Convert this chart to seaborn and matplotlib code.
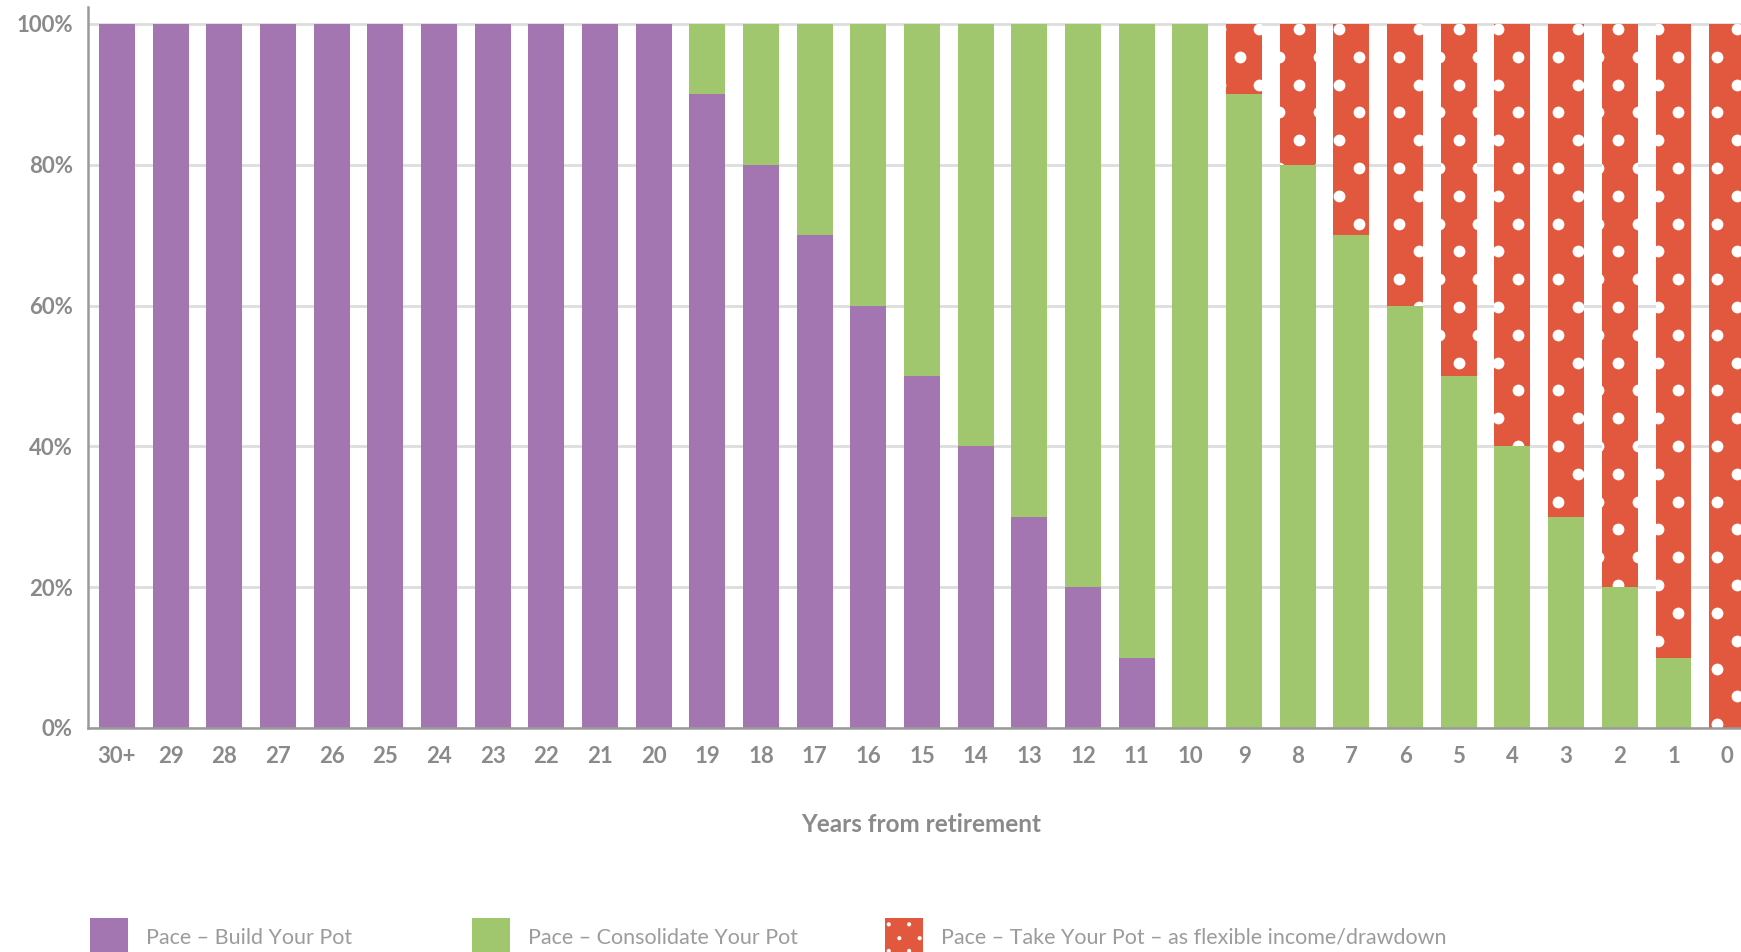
import numpy as np
import pandas as pd
import matplotlib
matplotlib.use("Agg")
import matplotlib.pyplot as plt
from matplotlib.path import Path
from matplotlib.patches import Rectangle, Circle, Patch
from matplotlib.legend_handler import HandlerPatch
import seaborn as sns

# ---- data -----------------------------------------------------------------
years = ["30+", "29", "28", "27", "26", "25", "24", "23", "22", "21", "20",
         "19", "18", "17", "16", "15", "14", "13", "12", "11", "10",
         "9", "8", "7", "6", "5", "4", "3", "2", "1", "0"]
build = [100, 100, 100, 100, 100, 100, 100, 100, 100, 100, 100,
         90, 80, 70, 60, 50, 40, 30, 20, 10, 0,
         0, 0, 0, 0, 0, 0, 0, 0, 0, 0]
consolidate = [0, 0, 0, 0, 0, 0, 0, 0, 0, 0, 0,
               10, 20, 30, 40, 50, 60, 70, 80, 90, 100,
               90, 80, 70, 60, 50, 40, 30, 20, 10, 0]
take = [0, 0, 0, 0, 0, 0, 0, 0, 0, 0, 0,
        0, 0, 0, 0, 0, 0, 0, 0, 0, 0,
        10, 20, 30, 40, 50, 60, 70, 80, 90, 100]
y_ticks = [0, 20, 40, 60, 80, 100]
series_names = ["Pace \u2013 Build Your Pot",
                "Pace \u2013 Consolidate Your Pot",
                "Pace \u2013 Take Your Pot \u2013 as flexible income/drawdown"]

PURPLE = "#A376B2"
GREEN = "#A0C76E"
RED = "#E2583E"
TEXT = "#8A8A8A"
LEGEND_TEXT = "#9C9C9C"
GRID = "#DDDDDD"
SPINE = "#9A9A9A"

df = pd.DataFrame({"years": years, "build": build,
                   "consolidate": consolidate, "take": take})

sns.set_style("white")
plt.rcParams["font.family"] = ["Lato", "DejaVu Sans"]

W, H = 1741, 952
fig = plt.figure(figsize=(W / 100, H / 100), dpi=100)
# axes runs slightly past the right edge so the last bar is cropped
x_lo, x_hi = -0.54, 30.5
ax = fig.add_axes([88 / W, (H - 728) / H, 1666 / W, 721 / H])

bar_kw = dict(order=years, width=0.67, saturation=1, errorbar=None,
              linewidth=0, zorder=2, ax=ax)
sns.barplot(data=df, x="years", y="build", color=PURPLE, **bar_kw)
sns.barplot(data=df, x="years", y="consolidate", color=GREEN,
            bottom=np.asarray(build), **bar_kw)
sns.barplot(data=df, x="years", y="take", color=RED,
            bottom=np.asarray(build) + np.asarray(consolidate), **bar_kw)

# white polka-dot texture on the drawdown bars
red_bars = [p for p in ax.containers[-1].patches if p.get_height() > 0]
clip = Path.make_compound_path(
    *[p.get_path().transformed(p.get_patch_transform()) for p in red_bars])
dx, dy = 0.742, 3.95
dot_x, dot_y = [], []
for r in range(27):
    yy = 99.3 - r * dy
    x0 = 0.51 + (dx / 2 if r % 2 else 0.0) - 2 * dx
    xs = np.arange(x0, 31.5, dx)
    dot_x.extend(xs)
    dot_y.extend([yy] * len(xs))
dots = ax.scatter(dot_x, dot_y, s=72, c="white", linewidths=0, zorder=3)
dots.set_clip_path(clip, ax.transData)

ax.set_xlim(x_lo, x_hi)
ax.set_ylim(0, 102.41)

# axes styling
ax.set_yticks(y_ticks)
ax.set_yticklabels([f"{v}%" for v in y_ticks])
ax.yaxis.grid(True, color=GRID, linewidth=2, zorder=0)
ax.xaxis.grid(False)
ax.set_axisbelow(True)
for side in ("top", "right"):
    ax.spines[side].set_visible(False)
for side in ("left", "bottom"):
    ax.spines[side].set_color(SPINE)
    ax.spines[side].set_linewidth(1.8)
    ax.spines[side].set_zorder(4)
ax.tick_params(axis="both", length=0, labelcolor=TEXT, labelsize=16)
ax.tick_params(axis="y", pad=11)
ax.tick_params(axis="x", pad=13)
for lab in ax.get_xticklabels() + ax.get_yticklabels():
    lab.set_fontweight("bold")

ax.set_ylabel("")
ax.set_xlabel("Years from retirement", fontsize=17.5, color=TEXT,
              fontweight="bold", va="center")
ax.xaxis.set_label_coords((921 - 88) / 1666, (728 - 824) / 721)


class DottedSquare(HandlerPatch):
    """Legend key: red square with a small staggered dot grid."""

    def create_artists(self, legend, orig_handle, xdescent, ydescent,
                       width, height, fontsize, trans):
        x0, y0 = -xdescent, -ydescent
        arts = [Rectangle((x0, y0), width, height, facecolor=RED,
                          linewidth=0, transform=trans)]
        rows = [(0.84, (0.10, 0.64)), (0.47, (0.38, 0.92)),
                (0.13, (0.10, 0.64))]
        for fy, fxs in rows:
            for fx in fxs:
                arts.append(Circle((x0 + fx * width, y0 + fy * height),
                                   0.055 * width, facecolor="white",
                                   linewidth=0, transform=trans))
        return arts


handles = [Patch(facecolor=PURPLE, linewidth=0),
           Patch(facecolor=GREEN, linewidth=0),
           Patch(facecolor=RED, linewidth=0)]
legend_x = [90, 472, 885]
for i, (h, name, lx) in enumerate(zip(handles, series_names, legend_x)):
    hmap = {h: DottedSquare()} if i == 2 else None
    leg = fig.legend(handles=[h], labels=[name], loc="lower left",
                     bbox_to_anchor=(lx / W, -0.004), frameon=False,
                     borderpad=0, borderaxespad=0, handlelength=1.75,
                     handleheight=2.3, handletextpad=0.85,
                     prop={"family": ["Lato", "DejaVu Sans"], "size": 15.5,
                           "weight": "normal"},
                     handler_map=hmap)
    for t in leg.get_texts():
        t.set_color(LEGEND_TEXT)

fig.savefig("out.png", dpi=100)
